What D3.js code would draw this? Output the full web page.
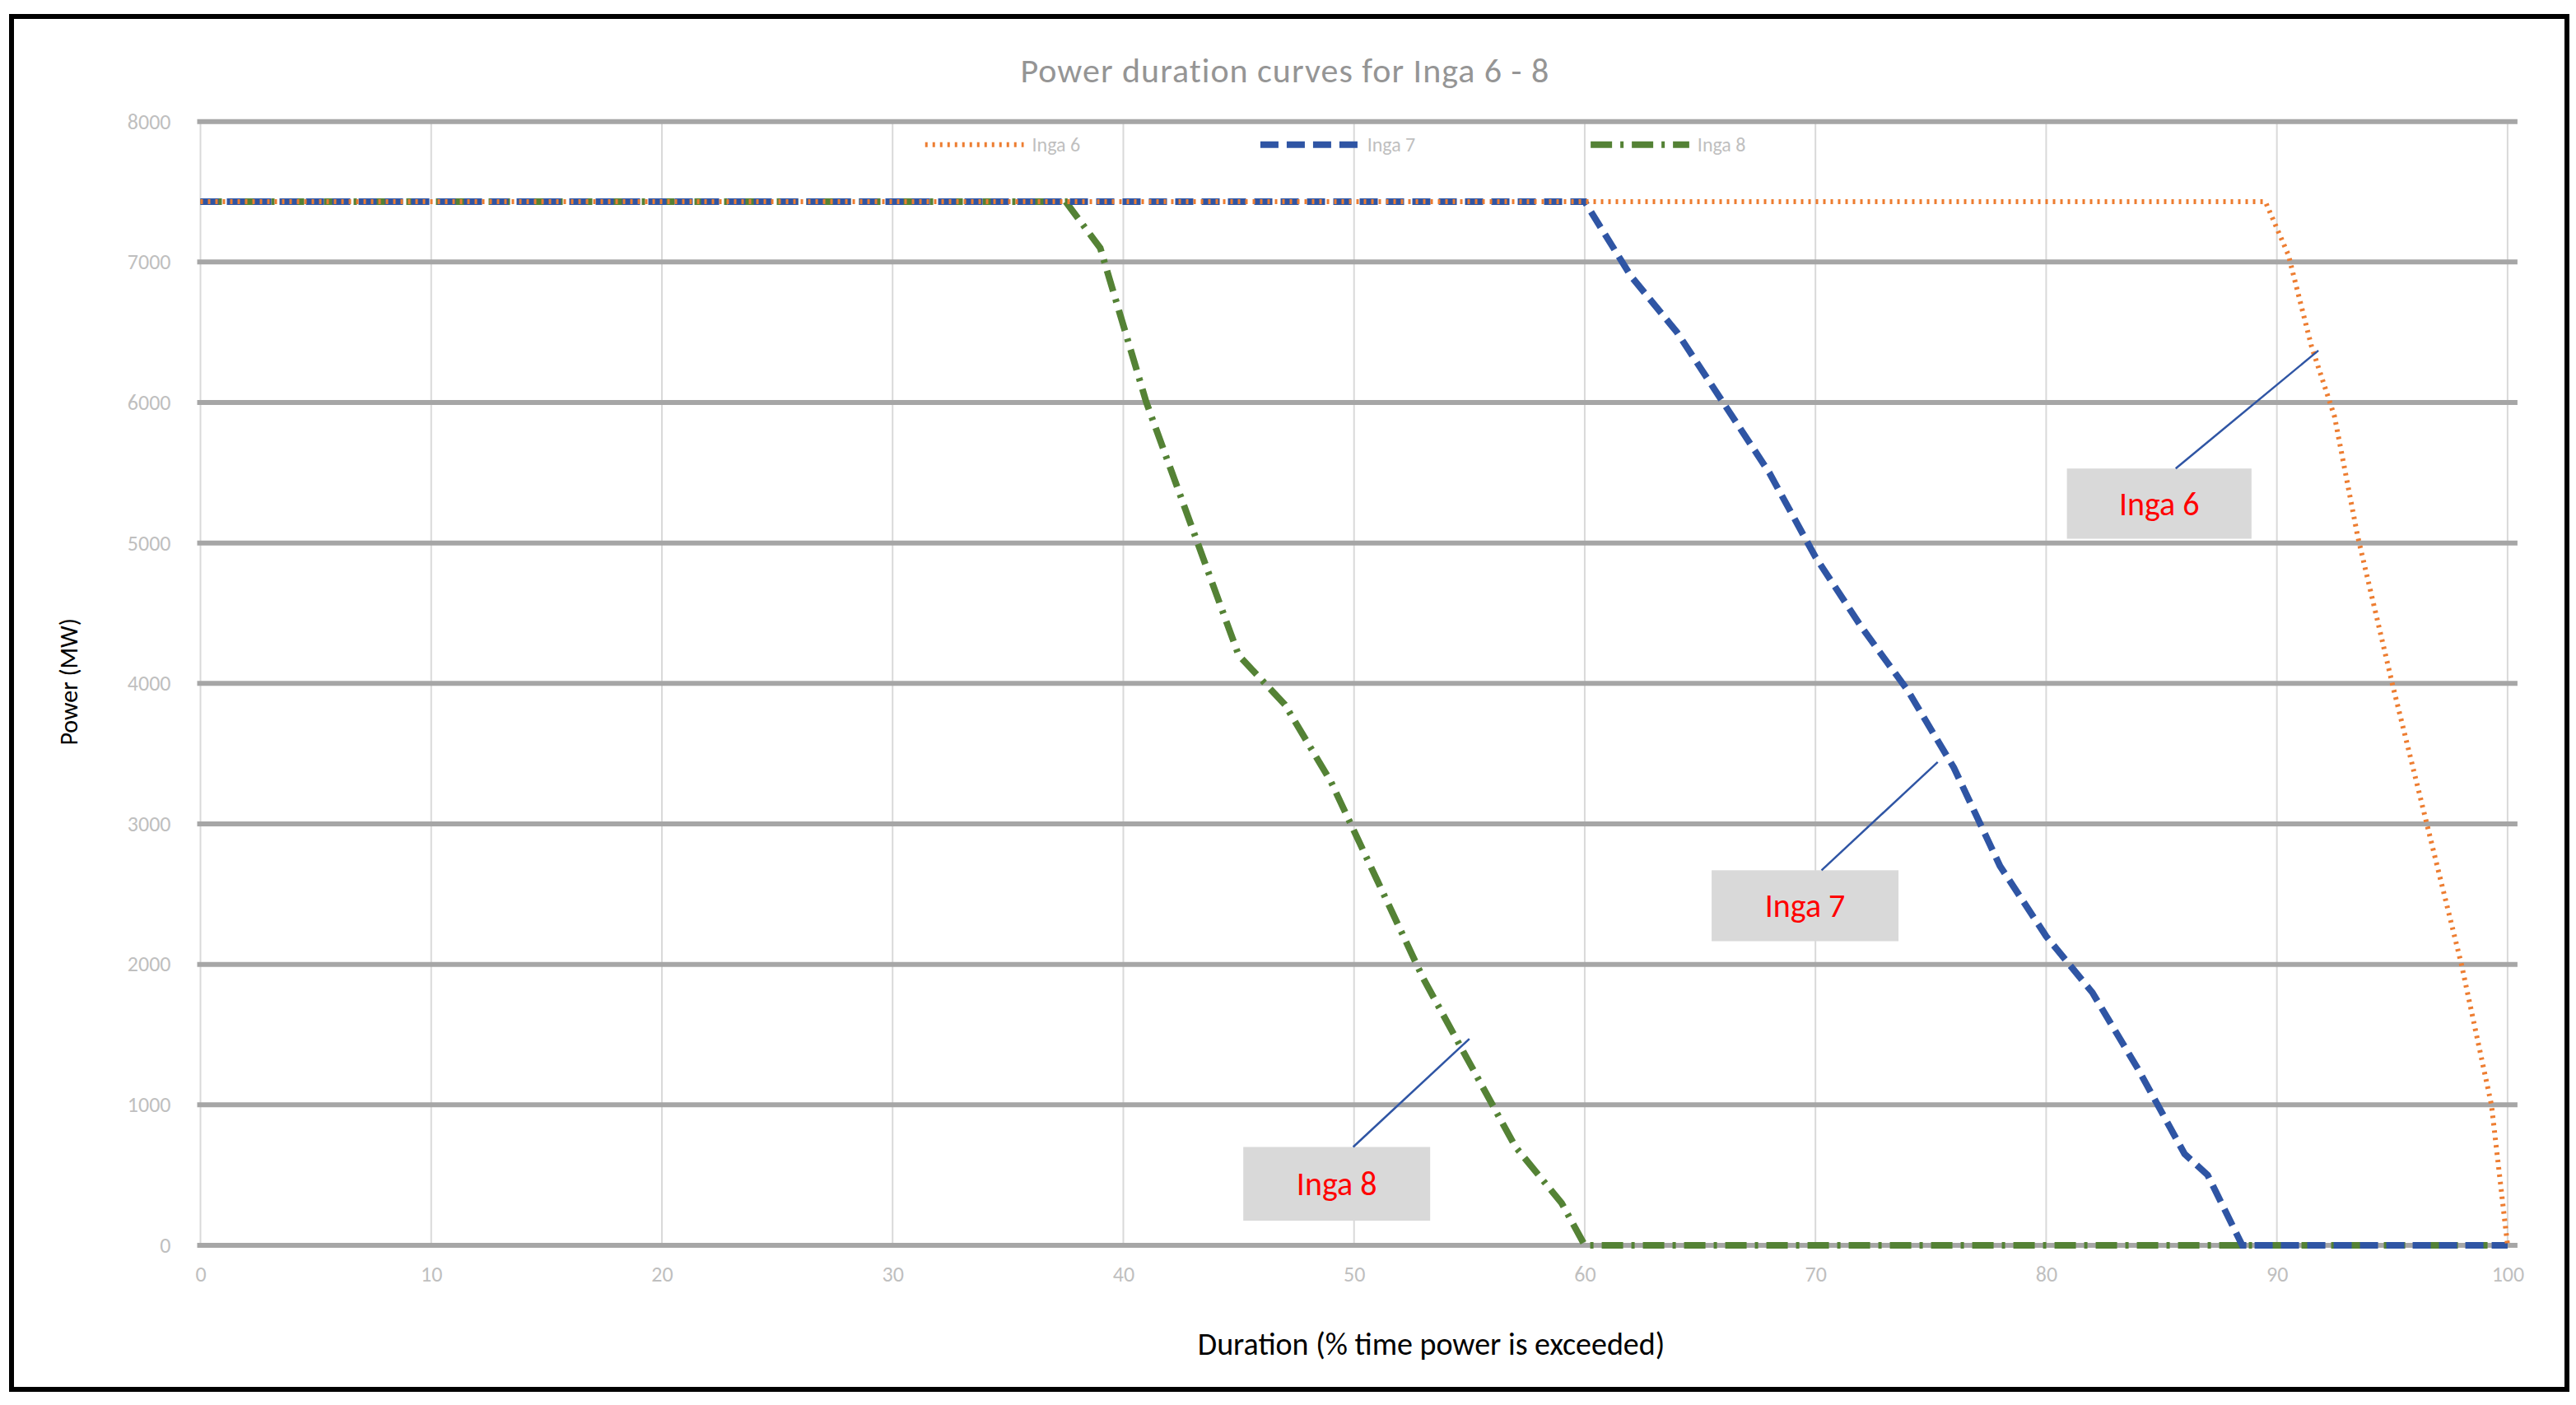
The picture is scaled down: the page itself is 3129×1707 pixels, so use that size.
<!DOCTYPE html>
<html><head><meta charset="utf-8">
<script src="https://cdn.jsdelivr.net/npm/d3@7"></script>
<style>body{margin:0;background:#fff}svg{display:block}</style>
</head><body>
<script>
const xTicks=[0,10,20,30,40,50,60,70,80,90,100];
const yTicks=[0,1000,2000,3000,4000,5000,6000,7000,8000];
const seriesNames=["Inga 6","Inga 7","Inga 8"];
const inga6X=[0,89.5,90.5,91.5,92.5,93.5,95,96.5,98,99.3,100];
const inga6Y=[7430,7430,7050,6400,5900,5050,4000,3000,2000,1000,0];
const inga7X=[0,60,62,64,66,68,70,72,74,76,78,80,82,84,86,87,88.5,100];
const inga7Y=[7430,7430,6900,6500,6000,5500,4900,4400,3950,3400,2700,2200,1800,1250,650,500,0,0];
const inga8X=[0,37.5,39,41,43,45,47,49,51,53,55,57,59,60,100];
const inga8Y=[7430,7430,7100,6000,5100,4200,3850,3300,2600,1900,1300,700,300,0,0];
const labels=[{name:"Inga 6",bx:[80.9,88.9],by:[5530,5030],px:91.8,py:6370},
              {name:"Inga 7",bx:[65.5,73.6],by:[2670,2165],px:75.3,py:3440},
              {name:"Inga 8",bx:[45.2,53.3],by:[700,175],px:55,py:1470}];

const W=3129,H=1707,S=1.996;
const F="Calibri, Carlito, 'Liberation Sans'";
const svg=d3.select("body").append("svg").attr("width",W).attr("height",H);
svg.append("rect").attr("x",14).attr("y",20).attr("width",3104).attr("height",1668).attr("fill","#fff").attr("stroke","#000").attr("stroke-width",6);
const x=d3.scaleLinear().domain([0,100]).range([122*S,1526*S]);
const y=d3.scaleLinear().domain([0,8000]).range([758*S,74*S]);
const g=svg.append("g");
g.selectAll(".vg").data(xTicks).join("line").attr("x1",d=>x(d)).attr("x2",d=>x(d)).attr("y1",y(8000)).attr("y2",y(0)).attr("stroke","#d9d9d9").attr("stroke-width",2);
g.selectAll(".hg").data(yTicks).join("line").attr("x1",x(0)-4).attr("x2",x(100)+12).attr("y1",d=>y(d)).attr("y2",d=>y(d)).attr("stroke","#a6a6a6").attr("stroke-width",6);
const ax=d3.axisBottom(x).tickValues(xTicks).tickSize(0).tickPadding(26);
svg.append("g").attr("transform",`translate(0,${y(0)})`).call(ax).call(s=>{s.select(".domain").remove();s.selectAll("text").attr("font-family",F).attr("font-size",26).attr("fill","#bfbfbf");});
const ay=d3.axisLeft(y).tickValues(yTicks).tickFormat(d3.format("d")).tickSize(0).tickPadding(36);
svg.append("g").attr("transform",`translate(${x(0)},0)`).call(ay).call(s=>{s.select(".domain").remove();s.selectAll("text").attr("font-family",F).attr("font-size",26).attr("fill","#bfbfbf");});
const line=d3.line().x(d=>x(d[0])).y(d=>y(d[1]));
const styles=[{c:"#ed7d31",dash:"3,6",w:6},{c:"#2f55a4",dash:"22,10",w:8},{c:"#548235",dash:"26,10,4,10",w:8}];
const data=[d3.zip(inga6X,inga6Y),d3.zip(inga7X,inga7Y),d3.zip(inga8X,inga8Y)];
[2,1,0].forEach(i=>svg.append("path").datum(data[i]).attr("d",line).attr("fill","none").attr("stroke",styles[i].c).attr("stroke-width",styles[i].w).attr("stroke-dasharray",styles[i].dash));
const lx=[563,767,968];
seriesNames.forEach((n,i)=>{
 svg.append("line").attr("x1",lx[i]*S).attr("x2",(lx[i]+60)*S).attr("y1",88*S).attr("y2",88*S).attr("stroke",styles[i].c).attr("stroke-width",styles[i].w).attr("stroke-dasharray",styles[i].dash);
 svg.append("text").attr("x",(lx[i]+65)*S).attr("y",88*S+8).text(n).attr("font-family",F).attr("font-size",24).attr("fill","#bfbfbf");
});
labels.forEach(l=>{
 svg.append("rect").attr("x",x(l.bx[0])).attr("y",y(l.by[0])).attr("width",x(l.bx[1])-x(l.bx[0])).attr("height",y(l.by[1])-y(l.by[0])).attr("fill","#d9d9d9");
 const cx=(x(l.bx[0])+x(l.bx[1]))/2;
 svg.append("line").attr("x1",cx+20).attr("y1",y(l.by[0])).attr("x2",x(l.px)).attr("y2",y(l.py)).attr("stroke","#2f55a4").attr("stroke-width",2.5);
 svg.append("text").attr("x",cx).attr("y",(y(l.by[0])+y(l.by[1]))/2+14).attr("text-anchor","middle").text(l.name).attr("font-family",F).attr("font-size",40).attr("fill","#ff0000");
});
svg.append("text").attr("x",782*S).attr("y",43*S+14).attr("text-anchor","middle").text("Power duration curves for Inga 6 - 8").attr("font-family",F).attr("font-size",42).attr("letter-spacing",1).attr("fill","#959595");
svg.append("text").attr("x",871*S).attr("y",818*S+13).attr("text-anchor","middle").text("Duration (% time power is exceeded)").attr("font-family",F).attr("font-size",38).attr("fill","#000");
svg.append("text").attr("transform",`translate(${42*S+10},${415*S}) rotate(-90)`).attr("text-anchor","middle").text("Power (MW)").attr("font-family",F).attr("font-size",30).attr("fill","#000");
</script>
</body></html>
